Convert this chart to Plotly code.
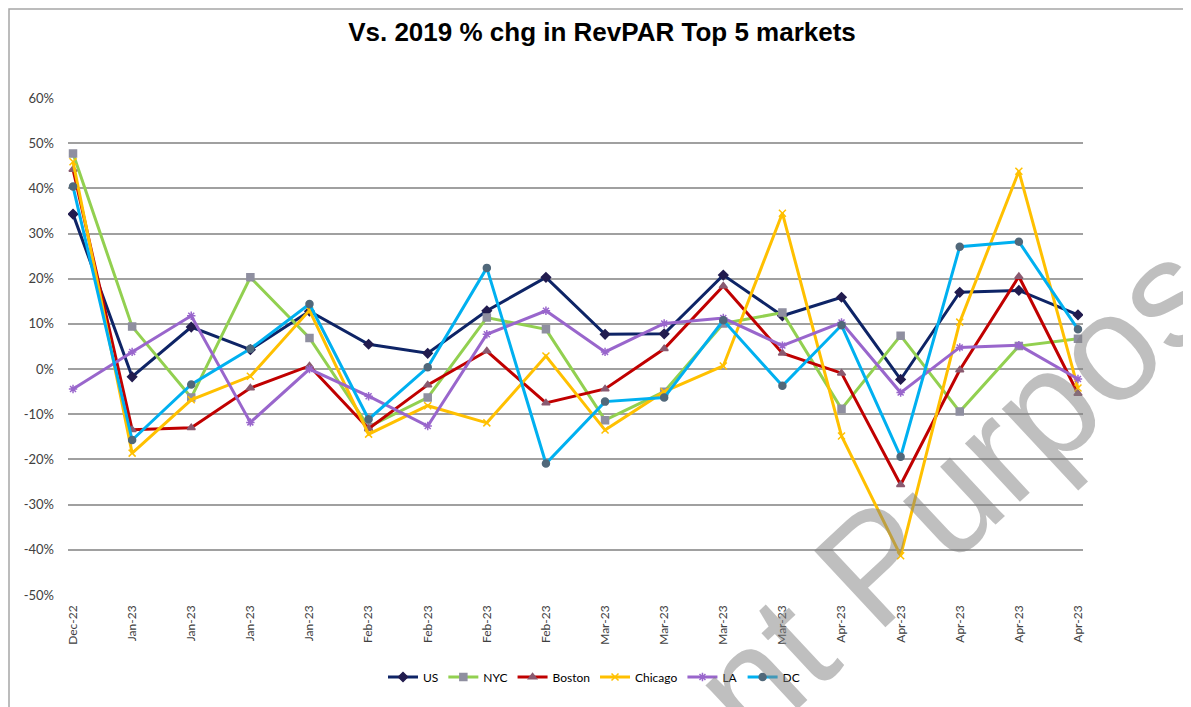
import plotly.graph_objects as go

tick_labels = ["Dec-22", "Jan-23", "Jan-23", "Jan-23", "Jan-23", "Feb-23", "Feb-23", "Feb-23", "Feb-23",
               "Mar-23", "Mar-23", "Mar-23", "Mar-23", "Apr-23", "Apr-23", "Apr-23", "Apr-23", "Apr-23"]

us = [34.3, -1.7, 9.3, 4.3, 12.8, 5.5, 3.5, 12.9, 20.3, 7.7, 7.8, 20.8, 11.8, 15.9, -2.3, 17.0, 17.4, 12.0]
nyc = [47.7, 9.4, -6.3, 20.3, 6.9, -12.8, -6.3, 11.4, 8.8, -11.3, -5.0, 10.1, 12.5, -8.8, 7.4, -9.4, 5.1, 6.7]
boston = [44.2, -13.4, -13.0, -4.2, 0.7, -13.2, -3.5, 4.0, -7.5, -4.4, 4.5, 18.4, 3.5, -0.9, -25.6, -0.2, 20.5, -5.4]
chicago = [45.9, -18.6, -6.8, -1.6, 13.0, -14.4, -8.1, -11.9, 2.9, -13.5, -5.0, 0.7, 34.5, -14.8, -41.3, 10.4, 43.8, -4.2]
la = [-4.4, 3.8, 11.8, -11.8, 0.0, -6.0, -12.6, 7.7, 12.9, 3.8, 10.1, 11.3, 5.2, 10.3, -5.2, 4.8, 5.3, -2.2]
dc = [40.4, -15.7, -3.4, 4.5, 14.4, -11.1, 0.4, 22.4, -20.9, -7.2, -6.3, 10.8, -3.7, 9.7, -19.4, 27.1, 28.2, 8.8]

series_names = ["US", "NYC", "Boston", "Chicago", "LA", "DC"]
series_values = [us, nyc, boston, chicago, la, dc]
line_colors = ["#0e2466", "#92d050", "#c00000", "#ffc000", "#9966cc", "#00b0f0"]
marker_symbols = ["diamond", "square", "triangle-up", "x-thin", "asterisk", "circle"]
marker_colors = ["#221c4f", "#8f8fa0", "#8a5a70", "#ffc000", "#9966cc", "#51687a"]

x_idx = list(range(len(tick_labels)))

# page body has an 8px default margin; figure sized to fit the viewport
W, H = 1183, 699
OFF = 8

fig = go.Figure()
for name, vals, lc, sym, mc in zip(series_names, series_values, line_colors, marker_symbols, marker_colors):
    fig.add_trace(go.Scatter(
        x=x_idx, y=vals, name=name, mode="lines+markers",
        line=dict(color=lc, width=3),
        marker=dict(symbol=sym, size=7, color=mc, line=dict(color=mc, width=1.5)),
    ))

pl, pr, pt, pb = 68 - OFF, 1083 - OFF, 98 - OFF, 595 - OFF
pw, ph = pr - pl, pb - pt

def px_x(x):
    return (x - OFF - pl) / pw

def px_y(y):
    return (pb - (y - OFF)) / ph

fig.update_layout(
    width=W, height=H,
    margin=dict(l=pl, r=W - pr, t=pt, b=H - pb),
    paper_bgcolor="white", plot_bgcolor="white",
    title=dict(text="<b>Vs. 2019 % chg in RevPAR Top 5 markets</b>",
               x=(602 - OFF) / W, xref="container", xanchor="center",
               y=1 - (32 - OFF) / H, yref="container", yanchor="middle",
               font=dict(family="Liberation Sans, Arial", size=26, color="#000000")),
    font=dict(family="Lato, Liberation Sans", size=12, color="#404040"),
    showlegend=True,
    legend=dict(orientation="h", x=px_x(594), xanchor="center", y=px_y(677), yanchor="middle",
                font=dict(family="Lato", size=12, color="#000000"),
                itemwidth=30, tracegroupgap=0, bgcolor="rgba(0,0,0,0)"),
    xaxis=dict(range=[-0.085, 17.085], tickmode="array", tickvals=x_idx, ticktext=tick_labels,
               tickangle=-90, showgrid=False, zeroline=False, showline=False,
               tickfont=dict(family="Lato", size=12, color="#404040"), ticks="", ticklabelstandoff=7),
    yaxis=dict(range=[-50, 60], tickmode="array", tickvals=list(range(-50, 61, 10)),
               ticktext=[f"{v}%" for v in range(-50, 61, 10)],
               showgrid=True, gridcolor="#a0a0a0", gridwidth=1.5, zeroline=False, showline=False,
               tickfont=dict(family="Lato", size=13, color="#404040"), ticks="", ticklabelstandoff=13),
    shapes=[dict(type="rect", xref="paper", yref="paper", x0=(1 - pl) / pw, x1=1.3,
                 y0=-0.4, y1=(pb - 1) / ph,
                 line=dict(color="#a6a6a6", width=1.5), fillcolor="rgba(0,0,0,0)", layer="below")],
    annotations=[dict(text="nt Purpose", xref="paper", yref="paper",
                      x=px_x(985), y=px_y(462), xanchor="center", yanchor="middle",
                      showarrow=False, textangle=-43,
                      font=dict(family="Liberation Sans, Arial", size=152, color="rgba(128,128,128,0.5)"))],
)

fig.write_html("out.html")
